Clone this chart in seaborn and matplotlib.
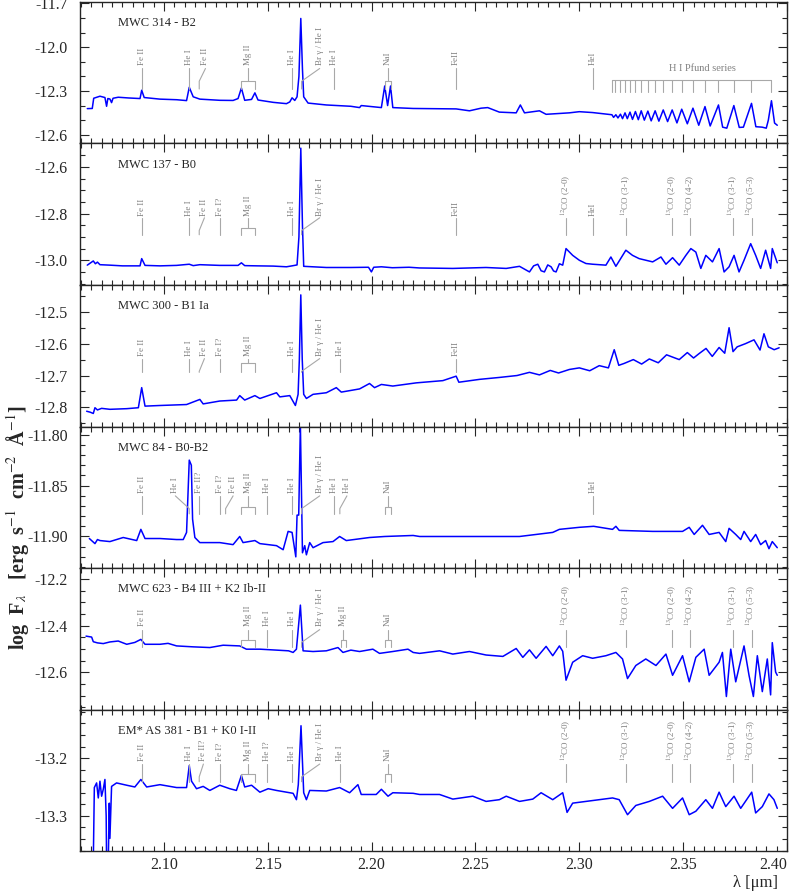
import matplotlib
matplotlib.use("Agg")
import matplotlib.pyplot as plt
from matplotlib.ticker import MultipleLocator, FormatStrFormatter
from matplotlib.transforms import blended_transform_factory
import seaborn as sns

sns.set_style("ticks")
plt.rcParams["font.family"] = ["Liberation Serif", "DejaVu Serif"]
plt.rcParams["mathtext.fontset"] = "stix"
plt.rcParams["axes.unicode_minus"] = False

# star names
names = ["MWC 314 - B2", "MWC 137 - B0", "MWC 300 - B1 Ia", "MWC 84 - B0-B2",
         "MWC 623 - B4 III + K2 Ib-II", "EM* AS 381 - B1 + K0 I-II"]

# spectra (wavelength in micron, log flux)
w1 = [2.0631, 2.0655, 2.0662, 2.0692, 2.0716, 2.0724, 2.0730, 2.0740, 2.0748, 2.0755, 2.0780, 2.0830,
      2.0885, 2.0893, 2.0905, 2.0981, 2.1061, 2.1109, 2.1122, 2.1141, 2.1173, 2.1269, 2.1333, 2.1357,
      2.1373, 2.1389, 2.1422, 2.1438, 2.1453, 2.1526, 2.1590, 2.1606, 2.1617, 2.1630, 2.1641, 2.1650,
      2.1659, 2.1667, 2.1673, 2.1694, 2.1782, 2.1900, 2.1942, 2.1950, 2.2047, 2.2063, 2.2077, 2.2091,
      2.2102, 2.2200, 2.2407, 2.2471, 2.2527, 2.2559, 2.2615, 2.2696, 2.2716, 2.2736, 2.2808, 2.2840,
      2.2952, 2.3000, 2.3064, 2.3157, 2.3165, 2.3176, 2.3186, 2.3198, 2.3208, 2.3220, 2.3231, 2.3244,
      2.3256, 2.3270, 2.3284, 2.3298, 2.3313, 2.3330, 2.3346, 2.3365, 2.3383, 2.3404, 2.3425, 2.3447,
      2.3470, 2.3493, 2.3520, 2.3547, 2.3575, 2.3605, 2.3630, 2.3670, 2.3690, 2.3710, 2.3744, 2.3770,
      2.3790, 2.3829, 2.3850, 2.3880, 2.3900, 2.3910, 2.3925, 2.3940, 2.3953]
f1 = [-12.421, -12.420, -12.350, -12.336, -12.345, -12.405, -12.352, -12.355, -12.380, -12.350, -12.343, -12.348,
      -12.352, -12.295, -12.345, -12.356, -12.360, -12.366, -12.275, -12.340, -12.356, -12.364, -12.365, -12.352,
      -12.280, -12.364, -12.358, -12.313, -12.362, -12.378, -12.387, -12.375, -12.347, -12.365, -12.340, -12.200,
      -11.803, -12.150, -12.340, -12.383, -12.396, -12.405, -12.414, -12.400, -12.414, -12.266, -12.400, -12.266,
      -12.414, -12.420, -12.423, -12.436, -12.418, -12.414, -12.445, -12.450, -12.396, -12.450, -12.436, -12.460,
      -12.450, -12.442, -12.448, -12.463, -12.481, -12.463, -12.485, -12.459, -12.490, -12.450, -12.490, -12.445,
      -12.495, -12.441, -12.497, -12.436, -12.500, -12.438, -12.505, -12.436, -12.507, -12.430, -12.510, -12.430,
      -12.519, -12.425, -12.525, -12.418, -12.535, -12.407, -12.540, -12.396, -12.548, -12.555, -12.400, -12.550,
      -12.548, -12.385, -12.545, -12.548, -12.555, -12.500, -12.367, -12.520, -12.535]

w2 = [2.0631, 2.0660, 2.0670, 2.0680, 2.0692, 2.0740, 2.0800, 2.0885, 2.0893, 2.0909, 2.0981, 2.1061,
      2.1122, 2.1141, 2.1173, 2.1269, 2.1357, 2.1373, 2.1389, 2.1450, 2.1526, 2.1590, 2.1617, 2.1641,
      2.1650, 2.1659, 2.1667, 2.1673, 2.1782, 2.1900, 2.1985, 2.1999, 2.2010, 2.2047, 2.2100, 2.2180,
      2.2231, 2.2391, 2.2551, 2.2648, 2.2712, 2.2740, 2.2760, 2.2780, 2.2800, 2.2816, 2.2832, 2.2848,
      2.2864, 2.2876, 2.2888, 2.2904, 2.2920, 2.2936, 2.2968, 2.3000, 2.3032, 2.3064, 2.3128, 2.3152,
      2.3176, 2.3224, 2.3256, 2.3288, 2.3353, 2.3393, 2.3417, 2.3449, 2.3481, 2.3513, 2.3537, 2.3561,
      2.3585, 2.3609, 2.3641, 2.3673, 2.3697, 2.3721, 2.3745, 2.3769, 2.3793, 2.3825, 2.3849, 2.3873,
      2.3897, 2.3921, 2.3929, 2.3953]
f2 = [-13.021, -13.003, -13.015, -13.008, -13.019, -13.021, -13.024, -13.024, -12.993, -13.022, -13.024, -13.022,
      -13.017, -13.023, -13.019, -13.022, -13.022, -13.011, -13.023, -13.024, -13.025, -13.028, -13.024, -13.020,
      -12.900, -12.520, -12.850, -13.026, -13.031, -13.031, -13.030, -13.050, -13.030, -13.028, -13.032, -13.030,
      -13.033, -13.035, -13.031, -13.035, -13.026, -13.040, -13.050, -13.024, -13.017, -13.045, -13.050, -13.020,
      -13.028, -13.046, -13.050, -13.015, -13.021, -12.950, -12.979, -13.000, -13.014, -13.017, -13.021, -12.986,
      -13.026, -12.957, -12.979, -12.993, -13.007, -12.986, -13.017, -12.989, -13.021, -12.979, -12.950, -12.965,
      -13.035, -12.979, -13.007, -12.950, -13.050, -13.028, -12.979, -13.050, -13.000, -12.929, -12.979, -13.035,
      -12.957, -13.035, -12.950, -13.011]

w3 = [2.0628, 2.0645, 2.0660, 2.0668, 2.0680, 2.0700, 2.0740, 2.0821, 2.0877, 2.0893, 2.0909, 2.0981,
      2.1109, 2.1173, 2.1189, 2.1269, 2.1350, 2.1365, 2.1389, 2.1438, 2.1462, 2.1542, 2.1558, 2.1606,
      2.1633, 2.1646, 2.1652, 2.1659, 2.1666, 2.1673, 2.1686, 2.1718, 2.1782, 2.1830, 2.1854, 2.1942,
      2.1990, 2.2014, 2.2047, 2.2102, 2.2215, 2.2343, 2.2407, 2.2420, 2.2520, 2.2615, 2.2700, 2.2760,
      2.2808, 2.2860, 2.2900, 2.2952, 2.3000, 2.3050, 2.3096, 2.3140, 2.3168, 2.3190, 2.3216, 2.3260,
      2.3300, 2.3337, 2.3380, 2.3420, 2.3481, 2.3520, 2.3550, 2.3577, 2.3610, 2.3640, 2.3673, 2.3700,
      2.3721, 2.3740, 2.3760, 2.3800, 2.3841, 2.3870, 2.3889, 2.3910, 2.3938, 2.3962]
f3 = [-12.812, -12.815, -12.819, -12.801, -12.808, -12.803, -12.806, -12.804, -12.801, -12.738, -12.796, -12.794,
      -12.791, -12.775, -12.789, -12.780, -12.777, -12.763, -12.777, -12.763, -12.772, -12.754, -12.767, -12.763,
      -12.794, -12.759, -12.650, -12.447, -12.650, -12.759, -12.772, -12.759, -12.754, -12.738, -12.752, -12.742,
      -12.725, -12.738, -12.728, -12.733, -12.723, -12.716, -12.702, -12.721, -12.712, -12.706, -12.700, -12.690,
      -12.698, -12.684, -12.692, -12.681, -12.676, -12.685, -12.669, -12.676, -12.619, -12.668, -12.662, -12.650,
      -12.664, -12.648, -12.660, -12.635, -12.650, -12.628, -12.645, -12.631, -12.615, -12.640, -12.612, -12.630,
      -12.550, -12.625, -12.610, -12.600, -12.588, -12.620, -12.569, -12.610, -12.619, -12.613]

w4 = [2.0641, 2.0668, 2.0680, 2.0692, 2.0740, 2.0804, 2.0869, 2.0889, 2.0909, 2.0981, 2.1061, 2.1093,
      2.1109, 2.1122, 2.1132, 2.1138, 2.1149, 2.1173, 2.1269, 2.1333, 2.1365, 2.1381, 2.1438, 2.1462,
      2.1542, 2.1574, 2.1598, 2.1617, 2.1635, 2.1641, 2.1649, 2.1657, 2.1667, 2.1678, 2.1686, 2.1702,
      2.1718, 2.1766, 2.1814, 2.1846, 2.1878, 2.1990, 2.2063, 2.2200, 2.2231, 2.2471, 2.2712, 2.2792,
      2.2872, 2.2904, 2.3000, 2.3069, 2.3160, 2.3176, 2.3192, 2.3353, 2.3497, 2.3529, 2.3553, 2.3593,
      2.3625, 2.3673, 2.3705, 2.3721, 2.3753, 2.3777, 2.3793, 2.3825, 2.3849, 2.3873, 2.3897, 2.3913,
      2.3929, 2.3953]
f4 = [-11.902, -11.907, -11.903, -11.904, -11.905, -11.901, -11.904, -11.893, -11.902, -11.902, -11.903, -11.903,
      -11.896, -11.825, -11.830, -11.883, -11.901, -11.906, -11.906, -11.908, -11.900, -11.906, -11.904, -11.907,
      -11.909, -11.913, -11.895, -11.896, -11.920, -11.879, -11.879, -11.790, -11.916, -11.909, -11.918, -11.906,
      -11.911, -11.906, -11.905, -11.900, -11.904, -11.901, -11.900, -11.899, -11.900, -11.900, -11.900, -11.898,
      -11.896, -11.893, -11.891, -11.890, -11.893, -11.890, -11.894, -11.895, -11.895, -11.891, -11.898, -11.889,
      -11.898, -11.896, -11.905, -11.892, -11.898, -11.903, -11.895, -11.905, -11.898, -11.908, -11.904, -11.912,
      -11.905, -11.911]

w5 = [2.0625, 2.0652, 2.0660, 2.0680, 2.0708, 2.0740, 2.0780, 2.0821, 2.0860, 2.0889, 2.0909, 2.0981,
      2.1020, 2.1061, 2.1141, 2.1221, 2.1285, 2.1365, 2.1397, 2.1462, 2.1542, 2.1600, 2.1622, 2.1638,
      2.1657, 2.1670, 2.1718, 2.1782, 2.1838, 2.1862, 2.1900, 2.1942, 2.2006, 2.2038, 2.2102, 2.2175,
      2.2200, 2.2231, 2.2327, 2.2391, 2.2471, 2.2551, 2.2632, 2.2696, 2.2728, 2.2760, 2.2792, 2.2840,
      2.2872, 2.2904, 2.2920, 2.2936, 2.2968, 2.3016, 2.3064, 2.3128, 2.3176, 2.3208, 2.3232, 2.3272,
      2.3320, 2.3369, 2.3417, 2.3449, 2.3497, 2.3529, 2.3561, 2.3601, 2.3625, 2.3673, 2.3689, 2.3708,
      2.3729, 2.3753, 2.3793, 2.3817, 2.3838, 2.3857, 2.3881, 2.3905, 2.3921, 2.3929, 2.3945, 2.3953]
f5 = [-12.445, -12.449, -12.469, -12.474, -12.477, -12.470, -12.466, -12.480, -12.472, -12.459, -12.480, -12.480,
      -12.476, -12.487, -12.491, -12.494, -12.484, -12.487, -12.501, -12.501, -12.505, -12.508, -12.515, -12.501,
      -12.312, -12.508, -12.511, -12.508, -12.494, -12.515, -12.505, -12.511, -12.501, -12.519, -12.511, -12.501,
      -12.515, -12.519, -12.508, -12.522, -12.511, -12.526, -12.532, -12.498, -12.536, -12.504, -12.540, -12.489,
      -12.529, -12.487, -12.510, -12.634, -12.557, -12.529, -12.540, -12.529, -12.515, -12.543, -12.627, -12.571,
      -12.543, -12.571, -12.522, -12.613, -12.529, -12.641, -12.536, -12.501, -12.613, -12.557, -12.515, -12.704,
      -12.501, -12.641, -12.487, -12.613, -12.704, -12.529, -12.683, -12.543, -12.697, -12.473, -12.599, -12.613]

w6 = [2.0660, 2.0665, 2.0676, 2.0684, 2.0692, 2.0700, 2.0708, 2.0716, 2.0722, 2.0724, 2.0732, 2.0737,
      2.0740, 2.0748, 2.0772, 2.0821, 2.0860, 2.0889, 2.0917, 2.0981, 2.1061, 2.1109, 2.1122, 2.1133,
      2.1157, 2.1189, 2.1221, 2.1269, 2.1317, 2.1349, 2.1373, 2.1389, 2.1422, 2.1462, 2.1502, 2.1542,
      2.1590, 2.1622, 2.1638, 2.1647, 2.1660, 2.1673, 2.1686, 2.1702, 2.1782, 2.1846, 2.1894, 2.1934,
      2.1950, 2.2022, 2.2047, 2.2079, 2.2102, 2.2200, 2.2231, 2.2327, 2.2391, 2.2487, 2.2551, 2.2615,
      2.2648, 2.2712, 2.2776, 2.2816, 2.2872, 2.2920, 2.2941, 2.2968, 2.3032, 2.3096, 2.3160, 2.3192,
      2.3232, 2.3272, 2.3337, 2.3401, 2.3449, 2.3497, 2.3529, 2.3561, 2.3609, 2.3641, 2.3673, 2.3705,
      2.3745, 2.3777, 2.3830, 2.3849, 2.3881, 2.3913, 2.3937, 2.3953]
f6 = [-13.380, -13.251, -13.243, -13.269, -13.240, -13.266, -13.254, -13.237, -13.300, -13.380, -13.380, -13.278,
      -13.339, -13.249, -13.243, -13.247, -13.250, -13.237, -13.250, -13.246, -13.251, -13.251, -13.213, -13.240,
      -13.253, -13.249, -13.256, -13.247, -13.253, -13.256, -13.230, -13.250, -13.247, -13.259, -13.253, -13.256,
      -13.259, -13.261, -13.272, -13.246, -13.144, -13.260, -13.272, -13.256, -13.257, -13.251, -13.260, -13.246,
      -13.263, -13.263, -13.254, -13.266, -13.260, -13.261, -13.263, -13.263, -13.271, -13.266, -13.275, -13.272,
      -13.266, -13.275, -13.271, -13.260, -13.272, -13.260, -13.294, -13.278, -13.275, -13.272, -13.269, -13.272,
      -13.298, -13.282, -13.275, -13.266, -13.287, -13.269, -13.298, -13.292, -13.272, -13.287, -13.259, -13.284,
      -13.266, -13.287, -13.259, -13.295, -13.284, -13.262, -13.272, -13.287]

waves = [w1, w2, w3, w4, w5, w6]
fluxes = [f1, f2, f3, f4, f5, f6]

# line identifications: (label, wavelength or pair, label offset in micron)
BRG = "Br γ / He I"
CO = [("$^{12}$CO (2-0)", 2.2935), ("$^{12}$CO (3-1)", 2.3227), ("$^{13}$CO (2-0)", 2.3448),
      ("$^{12}$CO (4-2)", 2.3535), ("$^{13}$CO (3-1)", 2.3739), ("$^{12}$CO (5-3)", 2.3829)]
lines1 = [("Fe II", 2.0893, 0), ("He I", 2.1122, 0), ("Fe II", 2.1170, 0.003),
          ("Mg II", (2.1373, 2.1438), 0), ("He I", 2.1617, 0), (BRG, 2.1663, 0.0087),
          ("He I", 2.1820, 0), ("NaI", (2.2063, 2.2091), 0), ("FeII", 2.2407, 0), ("HeI", 2.3067, 0)]
lines2 = [("Fe II", 2.0893, 0), ("He I", 2.1122, 0), ("Fe II", 2.1170, 0.0025), ("Fe I?", 2.1269, 0),
          ("Mg II", (2.1373, 2.1438), 0), ("He I", 2.1617, 0), (BRG, 2.1663, 0.0087),
          ("FeII", 2.2407, 0), ("HeI", 2.3067, 0)] + [(c, l, 0) for c, l in CO]
lines3 = [("Fe II", 2.0893, 0), ("He I", 2.1122, 0), ("Fe II", 2.1170, 0.0025), ("Fe I?", 2.1269, 0),
          ("Mg II", (2.1373, 2.1438), 0), ("He I", 2.1617, 0), (BRG, 2.1663, 0.0087),
          ("He I", 2.1847, 0), ("FeII", 2.2407, 0)]
lines4 = [("Fe II", 2.0893, 0), ("He I", 2.1122, -0.0067), ("Fe II?", 2.1170, 0), ("Fe I?", 2.1269, 0),
          ("Fe II", 2.1297, 0.0036), ("Mg II", (2.1373, 2.1438), 0), ("He I", 2.1498, 0),
          ("He I", 2.1617, 0), (BRG, 2.1663, 0.0087), ("He I", 2.1820, 0), ("He I", 2.1847, 0.0034),
          ("NaI", (2.2063, 2.2091), 0), ("HeI", 2.3067, 0)]
lines5 = [("Fe II", 2.0893, 0), ("Mg II", (2.1373, 2.1438), 0), ("He I", 2.1498, 0), ("He I", 2.1617, 0),
          (BRG, 2.1663, 0.0087), ("Mg II", (2.1851, 2.1878), 0), ("NaI", (2.2063, 2.2091), 0)] + \
         [(c, l, 0) for c, l in CO]
lines6 = [("Fe II", 2.0893, 0), ("He I", 2.1122, 0), ("Fe II?", 2.1170, 0.002), ("Fe I?", 2.1269, 0),
          ("Mg II", (2.1373, 2.1438), 0), ("He I?", 2.1498, 0), ("He I", 2.1617, 0),
          (BRG, 2.1663, 0.0087), ("He I", 2.1847, 0), ("NaI", (2.2063, 2.2091), 0)] + \
         [(c, l, 0) for c, l in CO]
line_ids = [lines1, lines2, lines3, lines4, lines5, lines6]

pfund = [2.3156, 2.3174, 2.3196, 2.3218, 2.3243, 2.3269, 2.3298, 2.3329, 2.3364,
         2.3403, 2.3446, 2.3492, 2.3546, 2.3604, 2.3669, 2.3744, 2.3828, 2.3925]

# axis setup per panel
ylims = [(-12.66, -11.69), (-13.106, -12.50), (-12.86, -12.416),
         (-11.931, -11.792), (-12.76, -12.153), (-13.361, -13.116)]
ymajor = [0.3, 0.2, 0.1, 0.05, 0.2, 0.1]
yminor = [0.1, 0.05, 0.05, 0.01, 0.05, 0.02]
yfmt = ["%.1f", "%.1f", "%.1f", "%.2f", "%.1f", "%.1f"]
# label bottom, line top, line bottom, bracket height (axes fraction)
geo = [(0.555, 0.53, 0.385, 0.44), (0.49, 0.475, 0.355, 0.40), (0.50, 0.48, 0.383, 0.45),
       (0.53, 0.51, 0.383, 0.43), (0.59, 0.565, 0.44, 0.49), (0.64, 0.615, 0.49, 0.546)]

GRAY_T = "#808080"
GRAY_L = "#a8a8a8"


def mark(ax, name, lam, shift, g):
    ylab, ytop, ybot, ybr = g
    tr = blended_transform_factory(ax.transData, ax.transAxes)
    kw = dict(color=GRAY_L, lw=0.8, transform=tr)
    if isinstance(lam, tuple):
        a, b = lam
        xl = (a + b) / 2 + shift
        ax.plot([xl, xl], [ytop, ybr], **kw)
        ax.plot([a, a, b, b], [ybot, ybr, ybr, ybot], **kw)
    elif shift:
        xl = lam + shift
        ax.plot([xl, lam, lam], [ytop, ytop - 0.09, ybot], **kw)
    else:
        xl = lam
        ax.plot([lam, lam], [ytop, ybot], **kw)
    ax.text(xl, ylab, name, rotation=90, ha="center", va="bottom", transform=tr,
            color=GRAY_T, fontsize=6.5)


fig, axes = plt.subplots(6, 1, figsize=(7.89, 8.94), dpi=100, sharex=True)
fig.subplots_adjust(left=0.1014, right=0.9975, top=0.9978, bottom=0.048, hspace=0)

for i, ax in enumerate(axes):
    sns.lineplot(x=waves[i], y=fluxes[i], ax=ax, color="#0000ff", lw=1.1,
                 estimator=None, sort=False, legend=False)
    ax.set_xlim(2.0596, 2.4)
    ax.set_ylim(*ylims[i])
    ax.xaxis.set_major_locator(MultipleLocator(0.05))
    ax.xaxis.set_minor_locator(MultipleLocator(0.005))
    ax.yaxis.set_major_locator(MultipleLocator(ymajor[i]))
    ax.yaxis.set_minor_locator(MultipleLocator(yminor[i]))
    ax.yaxis.set_major_formatter(FormatStrFormatter(yfmt[i]))
    ax.tick_params(which="both", direction="in", top=True, right=True, width=0.8,
                   labelsize=11.5)
    ax.tick_params(axis="y", pad=9)
    ax.tick_params(axis="x", pad=4)
    ax.tick_params(which="major", length=6.5)
    ax.tick_params(which="minor", length=3.5)
    for s in ax.spines.values():
        s.set_linewidth(1.0)
    ax.set_xlabel("")
    ax.set_ylabel("")
    ax.text(0.054, 0.85, names[i], transform=ax.transAxes, ha="left", va="center", fontsize=9)
    for name, lam, shift in line_ids[i]:
        mark(ax, name, lam, shift, geo[i])

# Pfund series in the top panel
ax = axes[0]
tr = blended_transform_factory(ax.transData, ax.transAxes)
ax.plot([pfund[0], pfund[-1]], [0.447, 0.447], color=GRAY_L, lw=0.8, transform=tr)
for p in pfund:
    ax.plot([p, p], [0.447, 0.362], color=GRAY_L, lw=0.8, transform=tr)
ax.text(2.3591, 0.532, "H I Pfund series", transform=tr, ha="center", va="center",
        color=GRAY_T, fontsize=7.5)

axes[-1].xaxis.set_major_formatter(FormatStrFormatter("%.2f"))
fig.canvas.draw()
for lab in axes[-1].get_xticklabels():
    if lab.get_text() == "2.40":
        lab.set_horizontalalignment("right")

fig.text(0.022, 0.41, r"log  F$_\lambda$   [erg  s$^{-1}$  cm$^{-2}$  Å$^{-1}$]", rotation=90,
         ha="center", va="center", fontsize=14.5, fontweight="bold")
fig.text(0.957, 0.003, "λ [μm]", ha="center", va="bottom", fontsize=12)

fig.savefig("out.png", dpi=100)
plt.close(fig)
